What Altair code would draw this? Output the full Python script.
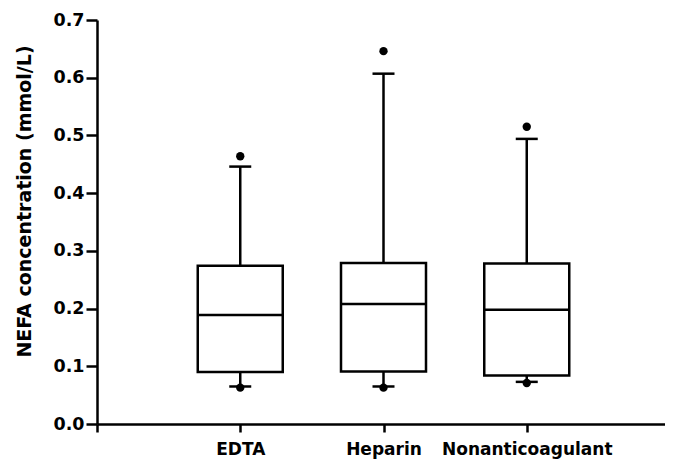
import altair as alt
import pandas as pd

categories = ["EDTA", "Heparin", "Nonanticoagulant"]
positions = [1, 2, 3]
q1 = [0.090, 0.091, 0.084]
median = [0.189, 0.208, 0.198]
q3 = [0.274, 0.279, 0.278]
whisker_low = [0.065, 0.065, 0.073]
whisker_high = [0.446, 0.607, 0.494]
outlier_high = [0.464, 0.646, 0.515]
outlier_low = [0.063, 0.063, 0.071]

df = pd.DataFrame({
    "cat": categories, "pos": positions, "q1": q1, "median": median, "q3": q3,
    "wlo": whisker_low, "whi": whisker_high,
})
out_df = pd.DataFrame({
    "pos": positions * 2,
    "val": outlier_high + outlier_low,
})

FONT = "DejaVu Sans"
label_expr = " : ".join(
    [f"datum.value == {p} ? '{c}'" for p, c in zip(positions, categories)] + ["''"]
)

xscale = alt.Scale(domain=[0, 4], nice=False, zero=False, padding=0)
yscale = alt.Scale(domain=[0, 0.7], nice=False)

xenc = alt.X("pos:Q", scale=xscale, axis=alt.Axis(
    values=[0, 1, 2, 3, 4], labelExpr=label_expr, grid=False, title=None,
    domainColor="black", domainWidth=2.5, tickColor="black", tickWidth=2.5, tickSize=8,
    labelFont=FONT, labelFontSize=17, labelFontWeight="bold", labelColor="black",
    labelPadding=9, labelFlush=False, labelOverlap=False))
yenc_axis = alt.Axis(
    values=[0, 0.1, 0.2, 0.3, 0.4, 0.5, 0.6, 0.7], format=".1f", grid=False,
    title="NEFA concentration (mmol/L)", titleFont=FONT, titleFontSize=19,
    titleFontWeight="bold", titleColor="black", titleX=-73, titleY=181,
    titleBaseline="middle", titleAlign="center", titleAngle=270,
    domainColor="black", domainWidth=2.5, tickColor="black", tickWidth=2.5, tickSize=11,
    labelFont=FONT, labelFontSize=17.5, labelFontWeight="bold", labelColor="black",
    labelPadding=2, labelFlush=False)

base = alt.Chart(df)

whisk_up = base.mark_rule(color="black", strokeWidth=2.5).encode(
    x=xenc, y=alt.Y("q3:Q", scale=yscale, axis=yenc_axis), y2="whi:Q")
whisk_dn = base.mark_rule(color="black", strokeWidth=2.5).encode(
    x="pos:Q", y="wlo:Q", y2="q1:Q")
box = base.mark_bar(fill="white", stroke="black", strokeWidth=2.5, size=85).encode(
    x="pos:Q", y="q1:Q", y2="q3:Q")
med = base.mark_tick(color="black", thickness=2.5, size=85, orient="horizontal",
                     opacity=1).encode(x="pos:Q", y="median:Q")
cap_hi = base.mark_tick(color="black", thickness=2.5, size=22, orient="horizontal",
                        opacity=1).encode(x="pos:Q", y="whi:Q")
cap_lo = base.mark_tick(color="black", thickness=2.5, size=22, orient="horizontal",
                        opacity=1).encode(x="pos:Q", y="wlo:Q")
pts = alt.Chart(out_df).mark_circle(color="black", opacity=1, size=70).encode(
    x="pos:Q", y="val:Q")

chart = alt.layer(whisk_up, whisk_dn, box, med, cap_hi, cap_lo, pts).properties(
    width=573, height=404,
    autosize=alt.AutoSizeParams(type="none"),
    padding={"left": 89, "top": 12, "right": -5, "bottom": 35},
).configure(
    background="white",
    view=alt.ViewConfig(strokeOpacity=0, strokeWidth=0),
)

chart.save("out.html", embed_options={"renderer": "svg", "actions": False})
